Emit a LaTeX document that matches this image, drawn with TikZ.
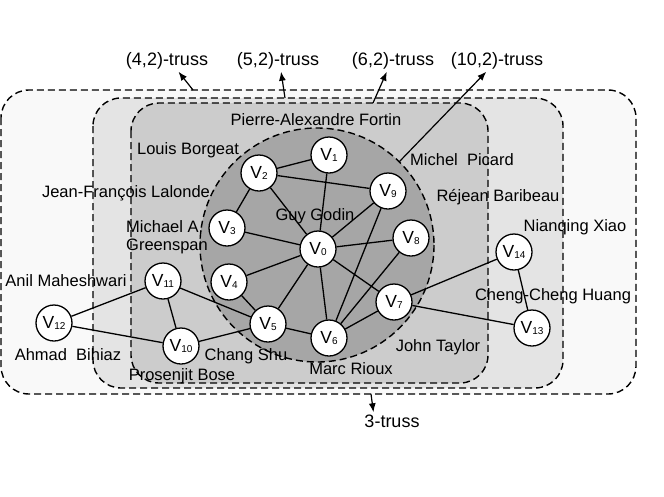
\documentclass[tikz,border=0pt]{standalone}
\usepackage{fontspec}
\setmainfont{Liberation Sans}
\usetikzlibrary{arrows.meta}

\definecolor{trussthree}{gray}{0.975}
\definecolor{trussfour}{gray}{0.895}
\definecolor{trussfive}{gray}{0.80}
\definecolor{trusssix}{gray}{0.65}

\newcommand{\vlab}[1]{V\raisebox{-1.5pt}{\fontsize{10}{10}\selectfont #1}}

\begin{document}
\begin{tikzpicture}[x=1pt, y=-1pt,
    box/.style={draw, line width=1.4pt, dash pattern=on 7pt off 4pt, rounded corners=28pt},
    vert/.style={draw, circle, fill=white, line width=1.3pt, minimum size=36pt, inner sep=0pt,
        font=\fontsize{17.5}{17.5}\selectfont},
    author/.style={font=\fontsize{16.5}{18.5}\selectfont, inner sep=1pt},
    person/.style={author, text height=12pt, text depth=3pt},
    truss/.style={font=\fontsize{18}{20}\selectfont, inner sep=2pt, text height=13pt, text depth=4pt},
    edge/.style={line width=1.3pt},
    arr/.style={line width=1.2pt, -{Latex[length=9pt, width=7pt]}}]

    \useasboundingbox (0, 0) rectangle (664, 496);

    \draw[box, fill=trussthree] (1, 90) rectangle (636, 394);
    \draw[box, fill=trussfour] (93, 98) rectangle (563, 388);
    \draw[box, fill=trussfive] (131, 103) rectangle (488, 383);
    \draw[box, fill=trusssix] (317, 245) circle [radius=117];

    \coordinate (c3) at (371, 394);
    \coordinate (c42) at (193, 90);
    \coordinate (c52) at (285, 98);
    \coordinate (c62) at (373, 103);
    \coordinate (c102) at (399, 162);

    \node[truss] (t42) at (167, 61) {(4,2)-truss};
    \node[truss] (t52) at (278, 61) {(5,2)-truss};
    \node[truss] (t62) at (393, 61) {(6,2)-truss};
    \node[truss] (t102) at (497, 61) {(10,2)-truss};
    \node[truss] (t3) at (392, 423) {3-truss};

    \draw[arr] (c42) -- (t42.317);
    \draw[arr] (c52) -- (t52.286);
    \draw[arr] (c62) -- (t62.240);
    \draw[arr] (c102) -- (t102.225);
    \draw[arr] (c3) -- (t3.150);

    \node[person] (pierre) at (316, 121) {Pierre-Alexandre Fortin};
    \node[person] (louis) at (188, 150) {Louis Borgeat};
    \node[person] (jean) at (126, 193) {Jean-François Lalonde};
    \node[author, align=left, anchor=west] (michael) at (125, 237) {Michael A.\\Greenspan};
    \node[person] (guy) at (315, 216) {Guy Godin};
    \node[person] (anil) at (66, 282) {Anil Maheshwari};
    \node[person] (ahmad) at (68, 356) {Ahmad\ \ Bihiaz};
    \node[person] (chang) at (246, 356) {Chang Shu};
    \node[person] (prosenjit) at (182, 376) {Prosenjit Bose};
    \node[person] (marc) at (351, 370) {Marc Rioux};
    \node[person] (john) at (438, 347) {John Taylor};
    \node[person] (michel) at (462, 161) {Michel\ \ Picard};
    \node[person] (rejean) at (498, 197) {Réjean Baribeau};
    \node[person] (nianqing) at (575, 227) {Nianqing Xiao};
    \node[person] (cheng) at (553, 296) {Cheng-Cheng Huang};

    \foreach \i/\x/\y in {0/318/249, 1/329/155, 2/259/173, 3/227/228, 4/229/282,
        5/268/324, 6/329/338, 7/394/302, 8/411/238, 9/388/191,
        10/181/346, 11/163/281, 12/54/323, 13/532/328, 14/514/252}
    {
        \node[vert] (v\i) at (\x, \y) {\vlab{\i}};
    }

    \foreach \a/\b in {1/2, 1/0, 2/9, 2/3, 2/0, 3/0, 9/0, 9/6, 8/0, 8/6,
        4/0, 0/5, 0/6, 0/7, 4/5, 5/6, 6/7, 11/5, 11/10, 11/12, 12/10,
        10/5, 7/14, 7/13, 14/13}
    {
        \draw[edge] (v\a) -- (v\b);
    }
\end{tikzpicture}
\end{document}
